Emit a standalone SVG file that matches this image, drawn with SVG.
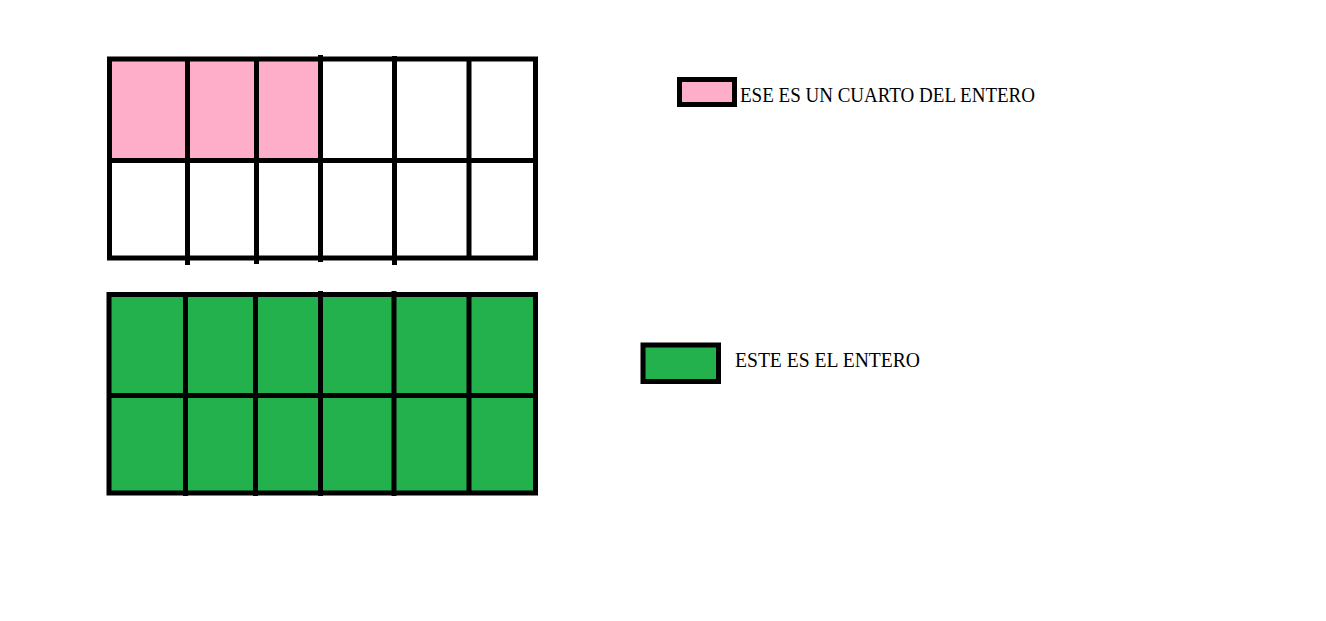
<svg xmlns="http://www.w3.org/2000/svg" width="1326" height="621" viewBox="0 0 1326 621">
<style>
.ln{stroke:#000;stroke-width:5;fill:none}
.pink{fill:#FFAEC9}
.green{fill:#22B14C}
.lbl{font-family:"Liberation Serif","DejaVu Serif",serif;font-size:20px;fill:#000}
</style>
<rect width="1326" height="621" fill="#fff"/>
<g id="grid-top">
<rect class="pink" x="109" y="59" width="211" height="101"/>
<rect class="ln" x="109.5" y="59" width="426" height="199"/>
<line class="ln" x1="109.5" y1="160.5" x2="535.5" y2="160.5"/>
<line class="ln" x1="187.5" y1="59" x2="187.5" y2="265"/>
<line class="ln" x1="256.5" y1="59" x2="256.5" y2="264"/>
<line class="ln" x1="320.5" y1="55" x2="320.5" y2="262"/>
<line class="ln" x1="394.5" y1="56" x2="394.5" y2="265"/>
<line class="ln" x1="469" y1="59" x2="469" y2="258"/>
</g>
<g id="grid-bottom">
<rect class="green" x="109" y="294.5" width="426.5" height="198.5"/>
<rect class="ln" x="109" y="294.5" width="426.5" height="198.5"/>
<line class="ln" x1="109" y1="395.5" x2="535.5" y2="395.5"/>
<line class="ln" x1="185.5" y1="294.5" x2="185.5" y2="496"/>
<line class="ln" x1="255.5" y1="294.5" x2="255.5" y2="496"/>
<line class="ln" x1="320.5" y1="291" x2="320.5" y2="496"/>
<line class="ln" x1="394" y1="291" x2="394" y2="496"/>
<line class="ln" x1="469" y1="294.5" x2="469" y2="493"/>
</g>
<g id="legend-pink">
<rect class="pink ln" x="679.5" y="79.5" width="55" height="25" style="fill:#FFAEC9"/>
<text class="lbl" x="740" y="102" textLength="295" lengthAdjust="spacingAndGlyphs">ESE ES UN CUARTO DEL ENTERO</text>
</g>
<g id="legend-green">
<rect class="ln" x="643" y="345" width="75.5" height="36.5" style="fill:#22B14C"/>
<text class="lbl" x="735" y="367" textLength="185" lengthAdjust="spacingAndGlyphs">ESTE ES EL ENTERO</text>
</g>
</svg>
